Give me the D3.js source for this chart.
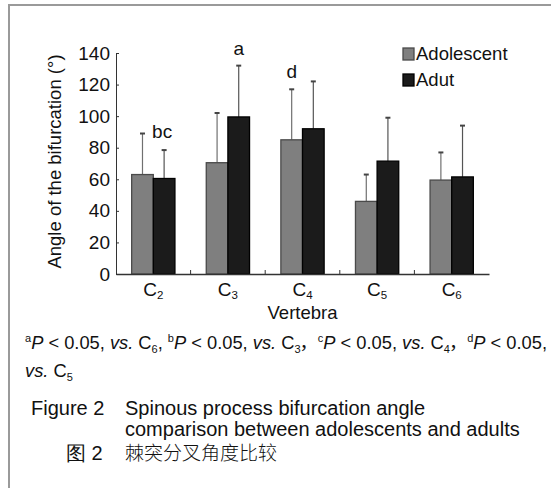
<!DOCTYPE html>
<html>
<head>
<meta charset="utf-8">
<script src="https://cdn.jsdelivr.net/npm/d3@7"></script>
<style>
  body { margin: 0; background: #fff; }
  svg { display: block; font-family: "Liberation Sans", Arial, sans-serif; }
</style>
</head>
<body>
<div id="chart"></div>
<script>
// chart values
var vertebrae = ["2", "3", "4", "5", "6"];          // C subscripts
var groups = ["Adolescent", "Adut"];
var adolescentMean = [63, 70.5, 85, 46, 59.5];
var adolescentErr  = [89, 102, 117, 63, 77];
var adultMean = [60.5, 99.5, 92, 71.5, 61.5];
var adultErr  = [78.5, 132, 122, 99, 94];
var yTicks = [0, 20, 40, 60, 80, 100, 120, 140];
var sigLetters = [
  {cat: "2", group: "Adut", text: "bc"},
  {cat: "3", group: "Adut", text: "a"},
  {cat: "4", group: "Adolescent", text: "d"}
];

var W = 551, H = 488;
var margin = {top: 53, left: 116, right: 62, bottom: 214};
var pw = W - margin.left - margin.right,
    ph = H - margin.top - margin.bottom;

var svg = d3.select("#chart").append("svg")
  .attr("width", W).attr("height", H);

// frame
svg.append("path")
  .attr("d", "M9," + H + "V5H" + W)
  .attr("fill", "none").attr("stroke", "#9a9a9a").attr("stroke-width", 2);

var g = svg.append("g")
  .attr("transform", "translate(" + margin.left + "," + margin.top + ")");

var x = d3.scaleBand().domain(vertebrae).range([0, pw]).paddingInner(0.42).paddingOuter(0.21);
var xs = d3.scaleBand().domain(groups).range([0, x.bandwidth()]);
var y = d3.scaleLinear().domain([0, 140]).range([ph, 0]);

var fill = {Adolescent: "#7f7f7f", Adut: "#1b1b1b"};
var edge = {Adolescent: "#4a4a4a", Adut: "#000"};
var errColor = {Adolescent: "#707070", Adut: "#555"};

var rows = [];
vertebrae.forEach(function(v, i){
  rows.push({cat: v, group: "Adolescent", mean: adolescentMean[i], err: adolescentErr[i]});
  rows.push({cat: v, group: "Adut", mean: adultMean[i], err: adultErr[i]});
});

// error bars (behind bars)
var eb = g.selectAll(".err").data(rows).enter().append("g").attr("class", "err")
  .attr("transform", function(d){ return "translate(" + (x(d.cat) + xs(d.group) + xs.bandwidth()/2) + ",0)"; });
eb.append("line")
  .attr("y1", function(d){ return y(d.mean); })
  .attr("y2", function(d){ return y(d.err); })
  .attr("stroke", function(d){ return errColor[d.group]; }).attr("stroke-width", 1.2);
eb.append("line")
  .attr("x1", -2.5).attr("x2", 2.5)
  .attr("y1", function(d){ return y(d.err); })
  .attr("y2", function(d){ return y(d.err); })
  .attr("stroke", "#444").attr("stroke-width", 2);

// bars
g.selectAll(".bar").data(rows).enter().append("rect")
  .attr("class", "bar")
  .attr("x", function(d){ return x(d.cat) + xs(d.group); })
  .attr("y", function(d){ return y(d.mean); })
  .attr("width", xs.bandwidth())
  .attr("height", function(d){ return ph - y(d.mean); })
  .attr("fill", function(d){ return fill[d.group]; })
  .attr("stroke", function(d){ return edge[d.group]; })
  .attr("stroke-width", 1.3);

// y axis
var yAxis = g.append("g").call(d3.axisLeft(y).tickValues(yTicks).tickSizeInner(-3).tickSizeOuter(-3).tickPadding(6));
yAxis.select(".domain").attr("stroke", "#333");
yAxis.selectAll(".tick line").attr("stroke", "#333");
yAxis.selectAll("text").attr("font-size", 19).attr("fill", "#111")
  .attr("font-family", "Liberation Sans, Arial, sans-serif");

// x axis
var xAxis = g.append("g").attr("transform", "translate(0," + ph + ")")
  .call(d3.axisBottom(x).tickSize(0).tickFormat(""));
xAxis.select(".domain").attr("stroke", "#333").attr("stroke-width", 1.3);
// category separator ticks pointing up
g.selectAll(".sep").data(vertebrae.slice(1)).enter().append("line")
  .attr("x1", function(d){ return x(d) - x.step()*x.paddingInner()/2; })
  .attr("x2", function(d){ return x(d) - x.step()*x.paddingInner()/2; })
  .attr("y1", ph).attr("y2", ph - 4).attr("stroke", "#333");

var cl = g.selectAll(".clab").data(vertebrae).enter().append("text")
  .attr("class", "clab")
  .attr("x", function(d){ return x(d) + x.bandwidth()/2; })
  .attr("y", ph + 22)
  .attr("text-anchor", "middle").attr("font-size", 19).attr("fill", "#111");
cl.append("tspan").text("C");
cl.append("tspan").attr("font-size", 11.5).attr("dy", 3).text(function(d){ return d; });

g.append("text").attr("x", pw/2).attr("y", ph + 45)
  .attr("text-anchor", "middle").attr("font-size", 18.5).attr("fill", "#111").text("Vertebra");

svg.append("text")
  .attr("transform", "translate(61," + (margin.top + ph/2 - 2) + ") rotate(-90)")
  .attr("text-anchor", "middle").attr("font-size", 18.5).attr("fill", "#111")
  .text("Angle of the bifurcation (°)");

// significance letters
g.selectAll(".sig").data(sigLetters).enter().append("text")
  .attr("x", function(d){ return x(d.cat) + xs(d.group) + xs.bandwidth()/2 + (d.text === "bc" ? -2 : 0); })
  .attr("y", function(d){
    var r = rows.filter(function(q){ return q.cat === d.cat && q.group === d.group; })[0];
    return y(r.err) - (d.text === "bc" ? 12 : 11);
  })
  .attr("text-anchor", "middle").attr("font-size", 19).attr("fill", "#111")
  .text(function(d){ return d.text; });

// legend
var leg = svg.append("g").attr("transform", "translate(403,48)");
groups.forEach(function(k, i){
  var row = leg.append("g").attr("transform", "translate(0," + (i*26) + ")");
  row.append("rect").attr("width", 11).attr("height", 12)
    .attr("fill", fill[k]).attr("stroke", edge[k]).attr("stroke-width", 1.3);
  row.append("text").attr("x", 13).attr("y", 12).attr("font-size", 18.5).attr("fill", "#111").text(k);
});

// footnote
var fn = svg.append("text").attr("x", 25).attr("y", 349).attr("font-size", 18.3).attr("fill", "#111");
var notes = [
  {sup: "a", sub: "6", sep: ", "},
  {sup: "b", sub: "3", sep: "，"},
  {sup: "c", sub: "4", sep: "，"},
  {sup: "d", sub: null, sep: ","}
];
notes.forEach(function(n){
  fn.append("tspan").attr("font-size", 11).attr("dy", -7).text(n.sup);
  fn.append("tspan").attr("font-style", "italic").attr("dy", 7).text("P");
  fn.append("tspan").text(" < 0.05, ");
  if (n.sub) {
    fn.append("tspan").attr("font-style", "italic").text("vs.");
    fn.append("tspan").text(" C");
    fn.append("tspan").attr("font-size", 11).attr("dy", 4).text(n.sub);
    fn.append("tspan").attr("dy", -4).attr("font-family", n.sep === "，" ? "Noto Sans CJK SC" : null)
      .attr("dx", n.sep === "，" ? -1 : 0).text(n.sep);
  } else {
    fn.node().lastChild.textContent = " < 0.05,";
  }
});
var fn2 = svg.append("text").attr("x", 25).attr("y", 377).attr("font-size", 18.3).attr("fill", "#111");
fn2.append("tspan").attr("font-style", "italic").text("vs.");
fn2.append("tspan").text(" C");
fn2.append("tspan").attr("font-size", 11).attr("dy", 4).text("5");

// caption
var cap = [
  {x1: 31, t1: "Figure 2", t2: "Spinous process bifurcation angle", y: 415},
  {x1: null, t1: "", t2: "comparison between adolescents and adults", y: 436},
  {x1: 66, t1: "图 2", t2: "棘突分叉角度比较", y: 460}
];
cap.forEach(function(c){
  var cjk = c.t2.charCodeAt(0) > 255;
  if (c.t1) svg.append("text").attr("x", c.x1).attr("y", c.y).attr("font-size", 20).attr("fill", "#111").text(c.t1);
  svg.append("text").attr("x", 125).attr("y", c.y).attr("font-size", cjk ? 19 : 20).attr("fill", "#111")
    .attr("font-family", cjk ? "Noto Sans CJK SC" : null)
    .attr("font-weight", cjk ? 300 : null)
    .text(c.t2);
});
</script>
</body>
</html>
